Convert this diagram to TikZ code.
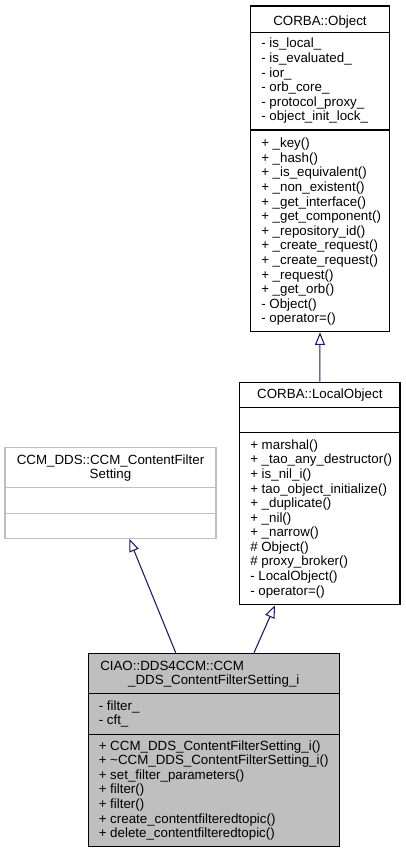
\documentclass[tikz,border=0pt]{standalone}
\usepackage{fontspec}
\newfontfamily\dgfam{Liberation Sans}
\newcommand\dgf{\dgfam\fontsize{10}{11}\selectfont}
\usetikzlibrary{arrows.meta,calc}
\definecolor{MB}{RGB}{25,25,112}
\definecolor{greyS}{RGB}{191,191,191}
\begin{document}
\begin{tikzpicture}[x=0.75pt,y=-0.75pt,
  box/.style={rectangle, draw=black, line width=0.9pt, fill=white, inner sep=0pt},
  lbl/.style={anchor=base west, inner sep=0pt, font=\dgf, text=black},
  ctr/.style={anchor=base, inner sep=0pt, font=\dgf, text=black},
  sep/.style={draw=black, line width=0.9pt},
  inh/.style={draw=MB, line width=0.8pt, -{Triangle[open, length=9.5pt, width=7.5pt]}}]
\useasboundingbox (0,0) rectangle (405,853);

% ---------- CORBA::Object
\node[box, minimum width=138.6*0.75pt, minimum height=325.7*0.75pt] (obj) at (320,168.85) {};
\draw[sep] (obj.west |- 0,32.3) -- (obj.east |- 0,32.3);
\draw[sep] (obj.west |- 0,130) -- (obj.east |- 0,130);
\node[ctr] (objt) at (320,25.3) {CORBA::Object};
\foreach \t [count=\i from 0] in {- is\_local\_, - is\_evaluated\_, - ior\_, - orb\_core\_, - protocol\_proxy\_, - object\_init\_lock\_}
  \node[lbl] (obja\i) at (261,47.7+14.65*\i) {\t};
\foreach \t [count=\i from 0] in {+ \_key(), + \_hash(), + \_is\_equivalent(), + \_non\_existent(), + \_get\_interface(), + \_get\_component(), + \_repository\_id(), + \_create\_request(), + \_create\_request(), + \_request(), + \_get\_orb(), - Object(), - operator=()}
  \node[lbl] (objm\i) at (261,147.7+14.6*\i) {\t};

% ---------- CORBA::LocalObject
\node[box, minimum width=160.3*0.75pt, minimum height=222.4*0.75pt] (lo) at (319.85,493.5) {};
\draw[sep] (lo.west |- 0,407.3) -- (lo.east |- 0,407.3);
\draw[sep] (lo.west |- 0,432.3) -- (lo.east |- 0,432.3);
\node[ctr] (lot) at (319.85,398.4) {CORBA::LocalObject};
\foreach \t [count=\i from 0] in {+ marshal(), + \_tao\_any\_destructor(), + is\_nil\_i(), + tao\_object\_initialize(), + \_duplicate(), + \_nil(), + \_narrow(), \# Object(), \# proxy\_broker(), - LocalObject(), - operator=()}
  \node[lbl] (lom\i) at (250,449.4+14.57*\i) {\t};

% ---------- CCM_DDS::CCM_ContentFilterSetting
\node[box, draw=greyS, minimum width=211*0.75pt, minimum height=90.6*0.75pt] (cfs) at (110.5,493) {};
\draw[sep, draw=greyS] (cfs.west |- 0,487.7) -- (cfs.east |- 0,487.7);
\draw[sep, draw=greyS] (cfs.west |- 0,513.3) -- (cfs.east |- 0,513.3);
\node[ctr] (cfst1) at (110.5,464.4) {CCM\_DDS::CCM\_ContentFilter};
\node[ctr] (cfst2) at (110.5,478.7) {Setting};

% ---------- CIAO::DDS4CCM::CCM_DDS_ContentFilterSetting_i
\node[box, fill=greyS, minimum width=251*0.75pt, minimum height=193.4*0.75pt] (bot) at (213.8,750) {};
\draw[sep] (bot.west |- 0,693.3) -- (bot.east |- 0,693.3);
\draw[sep] (bot.west |- 0,734.3) -- (bot.east |- 0,734.3);
\node[lbl] (bott1) at (100,670.6) {CIAO::DDS4CCM::CCM};
\node[ctr] (bott2) at (213.8,684.8) {\_DDS\_ContentFilterSetting\_i};
\node[lbl] (bota0) at (98.5,710.4) {- filter\_};
\node[lbl] (bota1) at (98.5,724.8) {- cft\_};
\foreach \t [count=\i from 0] in {+ CCM\_DDS\_ContentFilterSetting\_i(), + \textasciitilde CCM\_DDS\_ContentFilterSetting\_i(), + set\_filter\_parameters(), + filter(), + filter(), + create\_contentfilteredtopic(), + delete\_contentfilteredtopic()}
  \node[lbl] (botm\i) at (98.5,750.1+14.6*\i) {\t};

% ---------- inheritance connectors
\draw[inh] (lo.north) -- (obj.south);
\draw[inh] ($(bot.north)+(40.2,0)$) -- ($(lo.south)+(-44.85,0)$);
\draw[inh] ($(bot.north)+(-38.1,0)$) -- ($(cfs.south)+(18.8,0)$);
\end{tikzpicture}
\end{document}
